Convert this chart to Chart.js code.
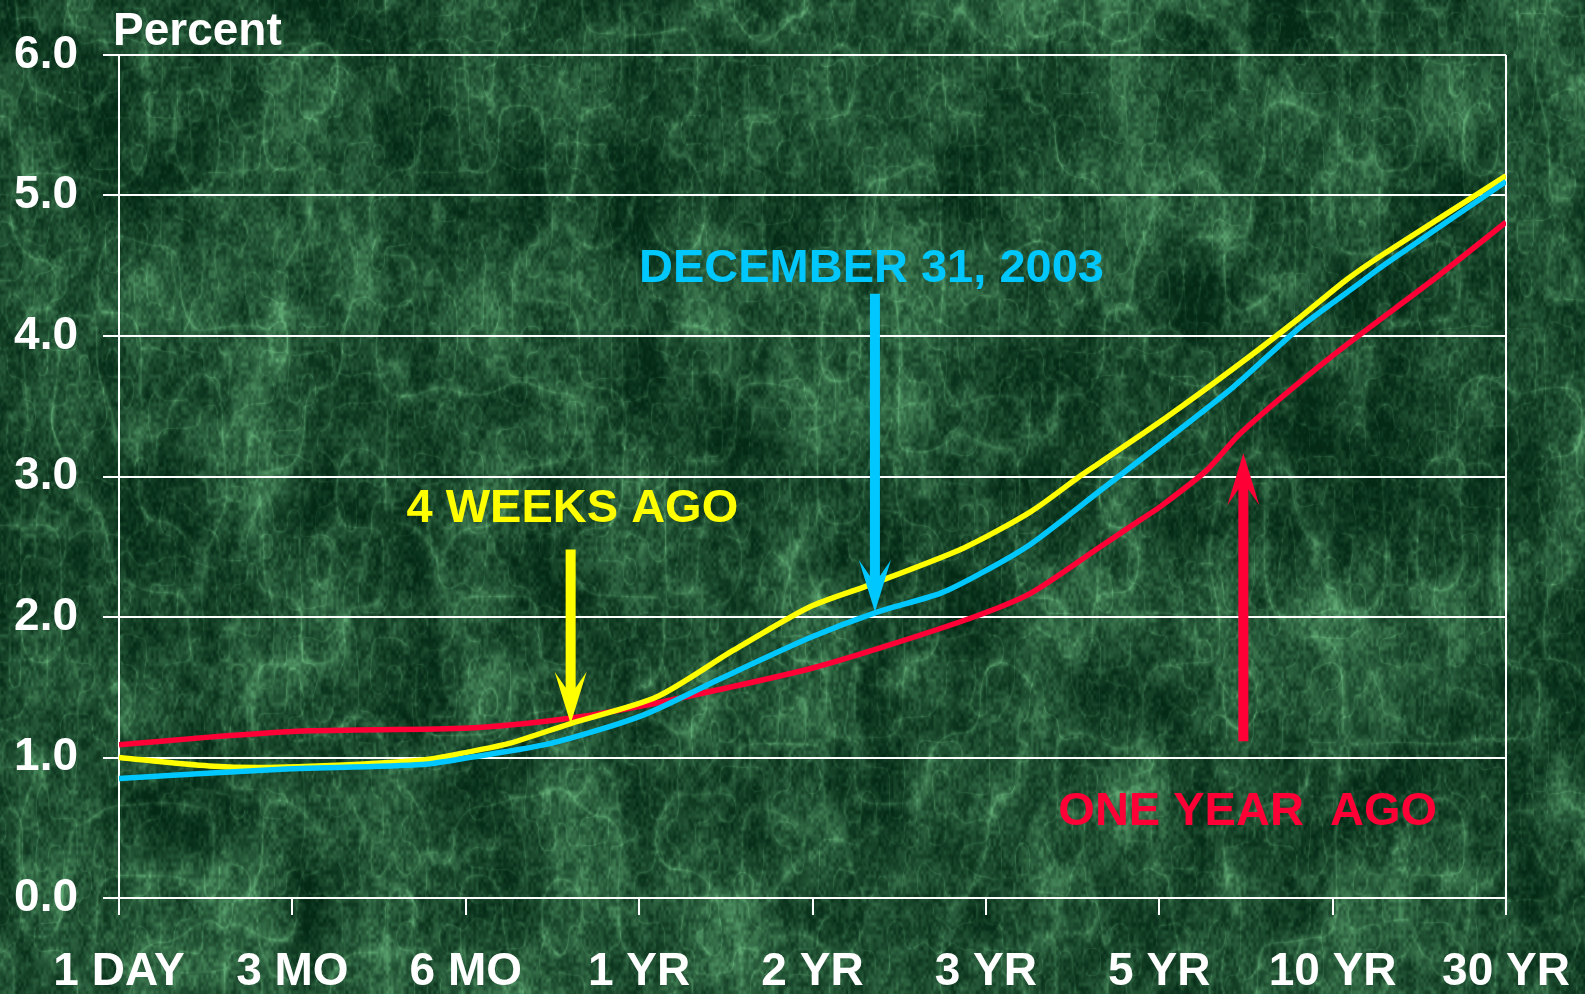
<!DOCTYPE html>
<html><head><meta charset="utf-8">
<script src="https://cdn.jsdelivr.net/npm/chart.js@4.4.1/dist/chart.umd.min.js"></script>
<style>
html,body{margin:0;padding:0;background:#134a2b;overflow:hidden}
#wrap{position:relative;width:1585px;height:994px}
canvas{display:block}
</style></head><body>
<div id="wrap"><canvas id="c" width="1585" height="994"></canvas></div>
<script>
// ---- data ----
const termLabels = ['1 DAY','3 MO','6 MO','1 YR','2 YR','3 YR','5 YR','10 YR','30 YR'];
const yTickValues = [0,1,2,3,4,5,6];

// term positions are in units of the term-label index (0 = 1 DAY ... 8 = 30 YR)
const weeksAgoTerm  = [0, 0.52, 0.91, 1.74, 2.02, 2.25, 2.60, 3.10, 3.54, 3.98, 4.31, 4.87, 5.26, 5.54, 5.66, 6.04, 6.43, 6.81, 7.08, 7.29, 8];
const weeksAgoYield = [1.00, 0.94, 0.93, 0.98, 1.04, 1.10, 1.24, 1.43, 1.76, 2.07, 2.22, 2.49, 2.75, 3.00, 3.10, 3.42, 3.77, 4.13, 4.40, 4.58, 5.14];

const dec2003Term  = [0, 0.91, 1.75, 2.02, 2.49, 3.02, 3.45, 3.98, 4.36, 4.74, 4.97, 5.26, 5.66, 6.04, 6.43, 6.81, 7.16, 7.29, 8];
const dec2003Yield = [0.85, 0.915, 0.95, 1.00, 1.10, 1.30, 1.55, 1.85, 2.03, 2.17, 2.31, 2.52, 2.90, 3.26, 3.64, 4.06, 4.38, 4.50, 5.10];

const yearAgoTerm  = [0, 0.52, 1.10, 2.02, 2.60, 2.99, 3.45, 3.98, 4.39, 4.93, 5.26, 5.66, 5.89, 6.00, 6.27, 6.47, 7.00, 7.58, 8];
const yearAgoYield = [1.09, 1.145, 1.19, 1.21, 1.28, 1.36, 1.48, 1.63, 1.78, 2.00, 2.17, 2.50, 2.69, 2.78, 3.04, 3.31, 3.86, 4.40, 4.81];

const seriesNames = ['4 WEEKS AGO', 'DECEMBER 31, 2003', 'ONE YEAR  AGO'];

// ---- helpers ----
const pairs = (xs, ys) => xs.map((x, i) => ({x: x, y: ys[i]}));
const FONT = "'Liberation Sans', Arial, Helvetica, sans-serif";
const YELLOW = '#ffff00', BLUE = '#00c8ff', RED = '#ff0036';

// ---- marble background texture (deterministic) ----
function hash2(x, y) {
  let h = Math.imul(x, 374761393) ^ Math.imul(y, 668265263);
  h = Math.imul(h ^ (h >>> 13), 1274126177);
  h ^= h >>> 16;
  return (h >>> 0) / 4294967296;
}
function vnoise(x, y) {
  const xi = Math.floor(x), yi = Math.floor(y);
  const xf = x - xi, yf = y - yi;
  const u = xf * xf * (3 - 2 * xf), v = yf * yf * (3 - 2 * yf);
  const a = hash2(xi, yi), b = hash2(xi + 1, yi), c = hash2(xi, yi + 1), d = hash2(xi + 1, yi + 1);
  return a + (b - a) * u + (c - a) * v + (a - b - c + d) * u * v;
}
const bg = document.createElement('canvas');
bg.width = 1585; bg.height = 994;
(function () {
  const g = bg.getContext('2d');
  const img = g.createImageData(bg.width, bg.height);
  const d = img.data;
  const W = bg.width, H = bg.height;
  for (let y = 0; y < H; y++) {
    for (let x = 0; x < W; x++) {
      const f = 0.34 * vnoise(x / 80, y / 100) + 0.2 * vnoise(x / 28 + 3.1, y / 40 + 10)
              + 0.2 * vnoise(x / 8 + 7.7, y / 14 + 20) + 0.26 * vnoise(x / 2.5 + 1.3, y / 4 + 30);
      const r1 = 1 - Math.abs(vnoise(x / 40 + 5, y / 70) * 2 - 1);
      const r2 = 1 - Math.abs(vnoise(x / 14 + 9, y / 26 + 4) * 2 - 1);
      const band = 0.5 + 0.5 * Math.cos(2 * Math.PI * (x - 50) / 108);
      let t = 0.95 * f + 0.22 * Math.pow(r1, 14) + 0.16 * Math.pow(r2, 12) + 0.07 * band - 0.24;
      t = Math.max(0, Math.min(1, t * 1.3));
      t = Math.pow(t, 1.35);
      const i = (y * W + x) * 4;
      d[i]     = 4 + t * 90;
      d[i + 1] = 42 + t * 125;
      d[i + 2] = 22 + t * 92;
      d[i + 3] = 255;
    }
  }
  g.putImageData(img, 0, 0);
})();

const bgPlugin = {
  id: 'marble',
  beforeDraw(chart) {
    chart.ctx.drawImage(bg, 0, 0);
  }
};

// annotation arrows and labels, given in data units
const notes = [
  {text: seriesNames[0], color: YELLOW, tx: 2.615, ty: 2.77, ax: 2.605, from: 2.48, to: 1.24},
  {text: seriesNames[1], color: BLUE,   tx: 4.34,  ty: 4.48, ax: 4.36,  from: 4.30, to: 2.035},
  {text: seriesNames[2], color: RED,    tx: 6.51,  ty: 0.61, ax: 6.485, from: 1.115, to: 3.165}
];

const notePlugin = {
  id: 'notes',
  afterDatasetsDraw(chart) {
    const ctx = chart.ctx, xs = chart.scales.x, ys = chart.scales.y;
    ctx.save();
    // "Percent" title
    ctx.fillStyle = '#ffffff';
    ctx.font = 'bold 46px ' + FONT;
    ctx.textAlign = 'left';
    ctx.textBaseline = 'alphabetic';
    ctx.fillText('Percent', chart.chartArea.left - 6, chart.chartArea.top - 10);
    notes.forEach(n => {
      const x = xs.getPixelForValue(n.ax);
      const y0 = ys.getPixelForValue(n.from);
      const y1 = ys.getPixelForValue(n.to);
      const dir = y1 > y0 ? 1 : -1;
      const hw = 5, wing = 16, hl = 52, notch = 36;
      ctx.fillStyle = n.color;
      ctx.beginPath();
      ctx.moveTo(x, y1);
      ctx.lineTo(x - wing, y1 - dir * hl);
      ctx.lineTo(x - hw, y1 - dir * notch);
      ctx.lineTo(x - hw, y0);
      ctx.lineTo(x + hw, y0);
      ctx.lineTo(x + hw, y1 - dir * notch);
      ctx.lineTo(x + wing, y1 - dir * hl);
      ctx.closePath();
      ctx.fill();
      ctx.font = 'bold 47px ' + FONT;
      ctx.textAlign = 'center';
      ctx.textBaseline = 'middle';
      ctx.fillText(n.text, xs.getPixelForValue(n.tx), ys.getPixelForValue(n.ty));
    });
    ctx.restore();
  }
};

new Chart(document.getElementById('c'), {
  type: 'line',
  data: {
    datasets: [
      {label: seriesNames[1], data: pairs(dec2003Term, dec2003Yield), borderColor: BLUE, order: 0},
      {label: seriesNames[0], data: pairs(weeksAgoTerm, weeksAgoYield), borderColor: YELLOW, order: 1},
      {label: seriesNames[2], data: pairs(yearAgoTerm, yearAgoYield), borderColor: RED, order: 2}
    ].map(ds => Object.assign(ds, {borderWidth: 5.5, pointRadius: 0, fill: false, tension: 0.25}))
  },
  options: {
    responsive: false,
    devicePixelRatio: 1,
    animation: false,
    events: [],
    layout: {padding: {top: 55, right: 79, left: 0, bottom: 0}},
    plugins: {legend: {display: false}, tooltip: {enabled: false}},
    scales: {
      x: {
        type: 'linear', min: 0, max: termLabels.length - 1,
        afterFit: s => { s.height = 96; s.paddingLeft = 0; s.paddingRight = 0; },
        afterBuildTicks: s => { s.ticks = termLabels.map((_, i) => ({value: i})); },
        ticks: {
          stepSize: 1, autoSkip: false, maxRotation: 0, padding: 30,
          color: '#ffffff', font: {family: FONT, size: 46, weight: 'bold'},
          callback: v => termLabels[v] ?? ''
        },
        grid: {
          color: c => (c.tick && c.tick.value === termLabels.length - 1) ? '#ffffff' : 'rgba(0,0,0,0)',
          tickColor: '#ffffff', lineWidth: 2, tickLength: 17, drawTicks: true
        },
        border: {color: '#ffffff', width: 2}
      },
      y: {
        min: yTickValues[0], max: yTickValues[yTickValues.length - 1],
        afterFit: s => { s.width = 119; s.paddingTop = 0; s.paddingBottom = 0; },
        afterBuildTicks: s => { s.ticks = yTickValues.map(v => ({value: v})); },
        ticks: {
          padding: 25, color: '#ffffff', font: {family: FONT, size: 46, weight: 'bold'},
          callback: v => Number(v).toFixed(1)
        },
        grid: {color: '#ffffff', lineWidth: 2, tickLength: 16},
        border: {color: '#ffffff', width: 2}
      }
    }
  },
  plugins: [bgPlugin, notePlugin]
});
</script>
</body></html>
